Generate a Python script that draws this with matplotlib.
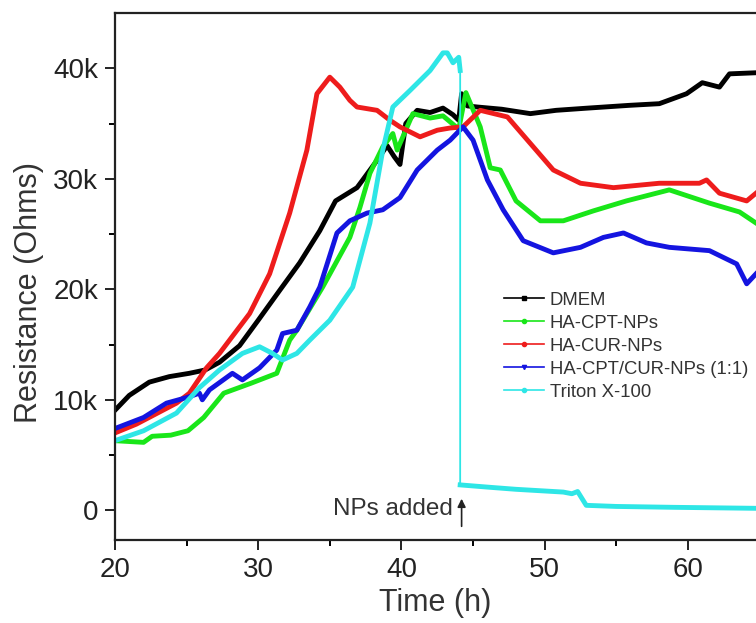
import matplotlib.pyplot as plt
from matplotlib.lines import Line2D

plt.rcParams['font.family'] = ['Liberation Sans', 'DejaVu Sans']

# DMEM (black)
t_dmem = [20, 21.0, 22.4, 23.8, 25.2, 26.3, 27.3, 28.7, 30, 31.5, 32.9, 34.3, 35.4, 36.9, 37.3,
          38.2, 39.0, 39.5, 39.9, 40.3, 41.1, 42.0, 42.9, 43.6, 44.0, 44.2, 44.6, 45.3, 47.0,
          49.0, 50.8, 53.0, 55.9, 58.0, 59.9, 61.0, 62.2, 62.9, 64.75]
r_dmem = [9050, 10400, 11600, 12100, 12400, 12700, 13400, 14900, 17200, 19900, 22400, 25300, 28000,
          29200, 29900, 31500, 33000, 32000, 31300, 35000, 36200, 36000, 36400, 35800, 35300,
          37700, 36600, 36500, 36300, 35900, 36200, 36400, 36650, 36800, 37700, 38700, 38300,
          39500, 39600]

# HA-CPT-NPs (green)
t_cpt = [20, 22.0, 22.6, 23.9, 25.1, 26.2, 27.6, 29.5, 31.3, 32.2, 32.7, 34.5, 36.4, 37.1, 37.8,
         38.7, 39.4, 39.7, 40.8, 42.0, 42.9, 44.0, 44.5, 45.5, 46.2, 46.9, 48.0, 49.7, 51.3,
         53.4, 55.7, 58.7, 61.5, 63.6, 64.75]
r_cpt = [6300, 6150, 6700, 6800, 7200, 8400, 10600, 11500, 12400, 15400, 16300, 20200, 24700,
         27400, 30500, 32900, 34100, 32600, 35900, 35500, 35700, 34500, 37800, 34700, 31000,
         30800, 28000, 26200, 26200, 27100, 28000, 29000, 27800, 27000, 26000]

# HA-CUR-NPs (red)
t_cur = [20, 21.5, 24.3, 25.2, 26.4, 27.3, 29.4, 30.8, 32.2, 33.4, 34.1, 35.0, 35.7, 36.4, 36.9,
         38.3, 39.2, 39.9, 41.3, 42.5, 43.4, 44.3, 45.5, 47.4, 49.0, 50.6, 52.5, 54.8, 58.0,
         60.8, 61.3, 62.2, 64.1, 64.75]
r_cur = [7000, 7800, 9700, 10600, 12900, 14200, 17800, 21400, 26900, 32600, 37700, 39200, 38300,
         37100, 36500, 36200, 35300, 34700, 33800, 34400, 34600, 34700, 36200, 35600, 33200,
         30800, 29600, 29200, 29600, 29600, 29900, 28700, 28000, 28700]

# HA-CPT/CUR-NPs (1:1) (blue)
t_mix = [20, 22.0, 23.6, 25.0, 25.9, 26.1, 26.6, 28.2, 28.9, 30.1, 31.3, 31.7, 32.7, 33.6, 34.3,
         35.5, 36.4, 37.6, 38.7, 39.9, 41.1, 42.5, 43.4, 44.3, 45.0, 46.0, 47.1, 48.5, 50.6,
         52.5, 54.1, 55.5, 57.1, 58.7, 61.5, 63.4, 64.1, 64.75]
r_mix = [7400, 8400, 9700, 10200, 10600, 10000, 10900, 12400, 11800, 12900, 14500, 16000, 16300,
         18400, 20200, 25100, 26200, 26900, 27200, 28300, 30800, 32600, 33500, 34700, 33500,
         29900, 27200, 24400, 23300, 23800, 24700, 25100, 24200, 23800, 23500, 22300, 20500,
         21400]

# Triton X-100 (cyan)
t_tri = [20, 22.0, 24.3, 25.9, 27.3, 28.9, 30.1, 31.0, 31.7, 32.7, 33.6, 35.0, 36.6, 37.8, 38.7,
         39.4, 40.6, 42.0, 42.9, 43.2, 43.6, 44.0, 44.1, 44.1, 46.0, 48.0, 51.3, 51.9, 52.3,
         52.9, 55.0, 59.0, 64.75]
r_tri = [6300, 7200, 8800, 11100, 12700, 14200, 14800, 14200, 13600, 14200, 15400, 17200, 20200,
         26000, 32600, 36500, 38000, 39800, 41400, 41400, 40500, 41000, 39800, 2300, 2100,
         1900, 1650, 1500, 1700, 450, 350, 270, 180]

series = [
    (t_dmem, r_dmem, 'black', 'DMEM'),
    (t_cpt, r_cpt, '#19e619', 'HA-CPT-NPs'),
    (t_cur, r_cur, '#ee1c1c', 'HA-CUR-NPs'),
    (t_mix, r_mix, '#1414e0', 'HA-CPT/CUR-NPs (1:1)'),
    (t_tri, r_tri, '#2ee6e6', 'Triton X-100'),
]

fig = plt.figure(figsize=(7.56, 6.23), dpi=100)
ax = fig.add_axes([0.152, 0.133, 0.848, 0.846])

for t, r, c, lab in series:
    if lab == 'Triton X-100':
        ax.plot(t[:23], r[:23], color=c, lw=3.5, solid_joinstyle='round')
        ax.plot(t[21:24], r[21:24], color=c, lw=1.3)
        ax.plot(t[23:], r[23:], color=c, lw=3.5, solid_joinstyle='round')
    else:
        ax.plot(t, r, color=c, lw=3.5, solid_joinstyle='round')

ax.set_xlim(20, 64.75)
ax.set_ylim(-2700, 45000)
ax.set_xticks([20, 30, 40, 50, 60])
ax.set_xticks([25, 35, 45, 55], minor=True)
ax.set_yticks([0, 10000, 20000, 30000, 40000])
ax.set_yticklabels(['0', '10k', '20k', '30k', '40k'])
ax.set_yticks([5000, 15000, 25000, 35000], minor=True)
ax.tick_params(which='major', direction='out', length=7, width=1.4, labelsize=20,
               colors='#222222', pad=5)
ax.tick_params(which='minor', direction='out', length=4.5, width=1.4)
ax.spines['right'].set_visible(False)
for s in ['left', 'bottom', 'top']:
    ax.spines[s].set_linewidth(1.6)
    ax.spines[s].set_color('#222222')

ax.set_xlabel('Time (h)', fontsize=22, color='#333333', labelpad=4)
ax.set_ylabel('Resistance (Ohms)', fontsize=22, color='#333333')
ax.yaxis.set_label_coords(-0.11, 0.47)

ax.annotate('', xy=(44.2, 1300), xytext=(44.2, -1700),
            arrowprops=dict(arrowstyle='-|>', color='#222222', lw=1.2, mutation_scale=12))
ax.text(43.6, 150, 'NPs added', ha='right', va='center', fontsize=17.5, color='#333333')

handles = [Line2D([], [], color=c, lw=1.2, marker='s' if lab == 'DMEM' else ('v' if 'CUR-NPs (' in lab else 'o'),
                  markersize=3, markerfacecolor=c, markeredgecolor=c)
           for _, _, c, lab in series]
ax.legend(handles, [s[3] for s in series], loc='upper left', bbox_to_anchor=(0.595, 0.485),
          frameon=False, fontsize=13.3, handlelength=2.2, handletextpad=0.3,
          labelspacing=0.32, borderaxespad=0, labelcolor='#333333')

fig.savefig('out.png', dpi=100)
